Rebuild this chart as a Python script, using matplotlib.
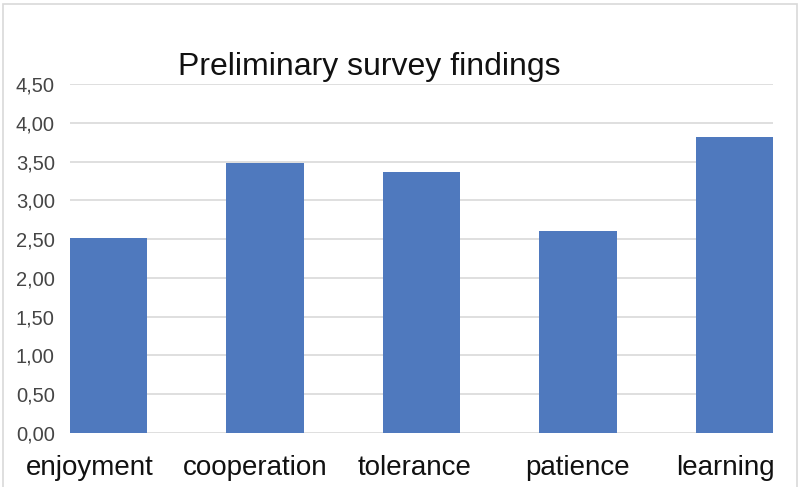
import matplotlib

matplotlib.use("Agg")
import matplotlib.pyplot as plt
from matplotlib.patches import Rectangle
from matplotlib.ticker import FuncFormatter, MultipleLocator

categories = ["enjoyment", "cooperation", "tolerance", "patience", "learning"]
scores = [2.51, 3.48, 3.37, 2.60, 3.82]
# labels in the source are not quite centred under their bars
label_shift = [-0.12, -0.06, -0.045, 0.0, -0.055]

plt.rcParams["font.family"] = ["Liberation Sans", "DejaVu Sans"]

fig = plt.figure(figsize=(7.99, 4.87), dpi=100)
ax = fig.add_axes([70 / 799, 54 / 487, 703 / 799, 349 / 487])

x = list(range(len(categories)))
ax.bar(x, scores, width=0.494, color="#4F79BE", zorder=2)

ax.set_xlim(-0.247, len(categories) - 1 + 0.247)
ax.set_ylim(0, 4.5)
ax.yaxis.set_major_locator(MultipleLocator(0.5))
ax.yaxis.set_major_formatter(FuncFormatter(lambda v, _: f"{v:.2f}".replace(".", ",")))
ax.grid(axis="y", color="#D9D9D9", linewidth=1.2, zorder=0)
ax.set_axisbelow(True)
for spine in ax.spines.values():
    spine.set_visible(False)

ax.set_xticks([i + s for i, s in zip(x, label_shift)])
ax.set_xticklabels(categories, fontsize=20, color="#111111")
ax.tick_params(axis="x", length=0, pad=16)
ax.tick_params(axis="y", length=0, pad=11, labelsize=14.5, labelcolor="#454545")

fig.text(369 / 799, 1 - 67 / 487, "Preliminary survey findings", fontsize=23,
         color="#111111", ha="center", va="center")

fig.patches.append(Rectangle((3 / 799, -0.05), 794 / 799, 1.05 - 4 / 487,
                             transform=fig.transFigure, fill=False,
                             edgecolor="#D9D9D9", linewidth=1.2))

fig.savefig("out.png", dpi=100)
plt.close(fig)
